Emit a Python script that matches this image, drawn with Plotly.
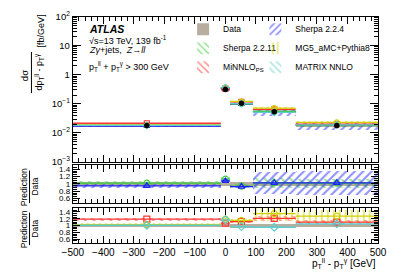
import plotly.graph_objects as go

# ---------------- data ----------------
bin_edges = [-500, -15, 15, 90, 230, 500]
data_vals = [0.018, 0.31, 0.105, 0.053, 0.018]
data_relerr = [0.05, 0.04, 0.06, 0.05, 0.05]

sherpa224_ratio = [0.95, 1.08, 0.93, 1.03, 1.03]
sherpa224_unc = [0.05, 0.05, 0.05, 0.29, 0.32]
sherpa2211_ratio = [1.02, 1.13, 0.94, 1.03, 1.02]
sherpa2211_unc = [0.06, 0.06, 0.06, 0.12, 0.12]
minnlo_ratio = [1.19, 1.07, 1.12, 1.21, 1.10]
minnlo_unc = [0.04, 0.04, 0.04, 0.05, 0.05]
mg5_ratio = [1.03, 1.19, 1.15, 1.35, 1.28]
mg5_unc = [0.04, 0.05, 0.05, 0.15, 0.15]
matrix_ratio = [1.01, 1.17, 0.97, 0.95, 1.05]
matrix_unc = [0.03, 0.03, 0.03, 0.03, 0.03]

x_tick_vals = [-500, -400, -300, -200, -100, 0, 100, 200, 300, 400, 500]
y_main_tickvals = [1e-3, 1e-2, 1e-1, 1, 10, 100]
y_main_ticktext = ["10<sup>\u22123</sup>", "10<sup>\u22122</sup>", "10<sup>\u22121</sup>", "1", "10", "10<sup>2</sup>"]
y_ratio_tickvals = [0.6, 0.8, 1, 1.2, 1.4]
y_ratio_ticktext = ["0.6", "0.8", "1", "1.2", "1.4"]

FONT = "Liberation Sans"
W, H = 407, 276

lo = bin_edges[:-1]
hi = bin_edges[1:]
centers = [(a + b) / 2 for a, b in zip(lo, hi)]
widths = [b - a for a, b in zip(lo, hi)]

C_DATA = "#b8ae9f"
C_BLUE = "#2020ff"
C_GREEN = "#3ccc3c"
C_RED = "#ff3535"
C_YEL = "#d0d000"
C_CYAN = "#5fcccc"

fig = go.Figure()


def band(xa, ya, center, rel, color, shape, name=None, legend=None, solid=False):
    base = [c * (1 - r) for c, r in zip(center, rel)]
    height = [c * 2 * r for c, r in zip(center, rel)]
    if solid:
        marker = dict(color=color, line=dict(width=0))
    else:
        marker = dict(color="rgba(0,0,0,0)", line=dict(width=0),
                      pattern=dict(shape=shape, fgcolor=color, bgcolor="rgba(0,0,0,0)",
                                   size=6, solidity=0.35, fillmode="overlay"))
    fig.add_trace(go.Bar(x=centers, y=height, base=base, width=widths, marker=marker,
                         xaxis=xa, yaxis=ya, name=name or "band", showlegend=legend is not None,
                         legend=legend if legend else "legend", hoverinfo="skip"))


def hlines(xa, ya, vals, color, width=1.3):
    xs, ys = [], []
    for a, b, v in zip(lo, hi, vals):
        xs += [a, b, None]
        ys += [v, v, None]
    fig.add_trace(go.Scatter(x=xs, y=ys, mode="lines", line=dict(color=color, width=width),
                             xaxis=xa, yaxis=ya, showlegend=False, hoverinfo="skip"))


def marks(xa, ya, vals, color, symbol, size=6):
    fig.add_trace(go.Scatter(x=centers, y=vals, mode="markers",
                             marker=dict(color=color, symbol=symbol, size=size, line=dict(width=1.2, color=color)),
                             xaxis=xa, yaxis=ya, showlegend=False, hoverinfo="skip"))


preds = [
    ("Sherpa 2.2.4", sherpa224_ratio, sherpa224_unc, C_BLUE, "/", "triangle-up-open", "legend2", 1),
    ("Sherpa 2.2.11", sherpa2211_ratio, sherpa2211_unc, C_GREEN, "\\", "circle-open", "legend", 1),
    ("MiNNLO<sub>PS</sub>", minnlo_ratio, minnlo_unc, C_RED, "\\", "square-open", "legend", 2),
    ("MG5_aMC+Pythia8", mg5_ratio, mg5_unc, C_YEL, "|", "circle-open", "legend2", 2),
    ("MATRIX NNLO", matrix_ratio, matrix_unc, C_CYAN, "\\", "diamond-open", "legend2", 2),
]

# ---- main panel ----
band("x", "y", data_vals, data_relerr, C_DATA, "", name="Data", legend="legend", solid=True)
for name, r, u, col, shp, sym, lg, panel in preds:
    pv = [d * k for d, k in zip(data_vals, r)]
    band("x", "y", pv, u, col, shp)
    hlines("x", "y", pv, col)
    marks("x", "y", pv, col, sym, size=5)
fig.add_trace(go.Scatter(x=centers, y=data_vals, mode="markers",
                         marker=dict(color="black", symbol="circle", size=5.5),
                         xaxis="x", yaxis="y", showlegend=False, hoverinfo="skip"))

# ---- ratio panels ----
ones = [1.0] * len(centers)
for xa, ya in (("x2", "y2"), ("x3", "y3")):
    band(xa, ya, ones, data_relerr, C_DATA, "", solid=True)

order = ["Sherpa 2.2.11", "MiNNLO<sub>PS</sub>", "Sherpa 2.2.4", "MG5_aMC+Pythia8", "MATRIX NNLO"]
for nm in order:
    name, r, u, col, shp, sym, lg, panel = [p for p in preds if p[0] == nm][0]
    xa, ya = ("x2", "y2") if panel == 1 else ("x3", "y3")
    band(xa, ya, r, u, col, shp, name=name, legend=lg)
    hlines(xa, ya, r, col)
    marks(xa, ya, r, col, sym, size=6)

# ---------------- layout ----------------
def X(px):
    return px / W


def Y(py):
    return 1 - py / H


xdom = [X(65), X(386)]
axis_common = dict(showline=True, linecolor="black", linewidth=1, mirror="allticks",
                   ticks="inside", tickcolor="black", showgrid=False, zeroline=False,
                   tickfont=dict(family=FONT, size=9.5, color="black"))

xcommon = dict(axis_common, range=[-500, 500], tickvals=x_tick_vals, ticklen=7,
               minor=dict(ticks="inside", dtick=20, ticklen=4, tickcolor="black", showgrid=False))

ratio_font = dict(family=FONT, size=8, color="black")

fig.update_layout(
    width=W, height=H, margin=dict(l=0, r=0, t=0, b=0),
    paper_bgcolor="white", plot_bgcolor="white", barmode="overlay", bargap=0,
    font=dict(family=FONT, color="black"),
    xaxis=dict(xcommon, domain=xdom, anchor="y", showticklabels=False),
    xaxis2=dict(xcommon, domain=xdom, anchor="y2", matches="x", showticklabels=False),
    xaxis3=dict(xcommon, domain=xdom, anchor="y3", matches="x", showticklabels=True,
                ticktext=[str(v).replace("-", "\u2212") for v in x_tick_vals], tickmode="array",
                tickfont=dict(family=FONT, size=10, color="black")),
    yaxis=dict(axis_common, type="log", domain=[Y(162), Y(10)], anchor="x", range=[-3, 2],
               tickvals=y_main_tickvals, ticktext=y_main_ticktext, ticklen=8,
               minor=dict(ticks="inside", ticklen=4, tickcolor="black", showgrid=False,
                          tickvals=[m * 10 ** e for e in range(-3, 2) for m in range(2, 10)])),
    yaxis2=dict(axis_common, domain=[Y(205), Y(165)], anchor="x2", range=[0.48, 1.52],
                tickvals=y_ratio_tickvals, ticktext=y_ratio_ticktext, ticklen=7,
                tickfont=ratio_font,
                minor=dict(ticks="inside", dtick=0.05, ticklen=4, tickcolor="black", showgrid=False)),
    yaxis3=dict(axis_common, domain=[Y(247), Y(210)], anchor="x3", range=[0.48, 1.52],
                tickvals=y_ratio_tickvals, ticktext=y_ratio_ticktext, ticklen=7,
                tickfont=ratio_font,
                minor=dict(ticks="inside", dtick=0.05, ticklen=4, tickcolor="black", showgrid=False)),
    legend=dict(x=X(181), y=Y(8), xanchor="left", yanchor="top", bgcolor="rgba(0,0,0,0)",
                font=dict(family=FONT, size=8.5, color="black"), tracegroupgap=0,
                traceorder="normal", itemwidth=30),
    legend2=dict(x=X(257), y=Y(8), xanchor="left", yanchor="top", bgcolor="rgba(0,0,0,0)",
                 font=dict(family=FONT, size=8.5, color="black"), tracegroupgap=0,
                 traceorder="normal", itemwidth=30),
    showlegend=True,
)

ann = []


def text(px, py, s, size=9, xanchor="left", angle=0, **kw):
    ann.append(dict(x=X(px), y=Y(py), xref="paper", yref="paper", text=s, showarrow=False,
                    xanchor=xanchor, yanchor="middle", textangle=angle,
                    font=dict(family=FONT, size=size, color="black"), **kw))


text(80, 23, "<b><i>ATLAS</i></b>", size=10.5)
text(80, 34, "\u221As=13 TeV, 139 fb<sup>-1</sup>", size=9)
text(80, 45, "<i>Z\u03b3</i>+jets,  <i>Z\u2192ll</i>", size=9)
text(80, 62, "p<sub>T</sub><sup>ll</sup> + p<sub>T</sub><sup>\u03b3</sup> > 300 GeV", size=9)

# y-axis title of main panel (fraction)
text(15, 72, "d\u03c3", size=9.5, xanchor="center", angle=-90)
text(29, 68, "dp<sub>T</sub><sup>ll</sup> - p<sub>T</sub><sup>\u03b3</sup>", size=9, xanchor="center", angle=-90)
text(31, 25, "[fb/GeV]", size=9, xanchor="center", angle=-90)

# ratio titles
for cy in (188, 232):
    text(14, cy, "Prediction", size=8.5, xanchor="center", angle=-90)
    text(25, cy, "Data", size=8.5, xanchor="center", angle=-90)

# x-axis title
ann.append(dict(x=X(386), y=Y(268), xref="paper", yref="paper",
                text="p<sub>T</sub><sup>ll</sup> - p<sub>T</sub><sup>\u03b3</sup> [GeV]",
                showarrow=False, xanchor="right", yanchor="middle",
                font=dict(family=FONT, size=10, color="black")))
fig.update_layout(annotations=ann)

shapes = [
    dict(type="line", xref="paper", yref="paper", x0=X(21.5), x1=X(21.5), y0=Y(47), y1=Y(90),
         line=dict(color="black", width=1)),
    dict(type="line", xref="paper", yref="paper", x0=X(19.5), x1=X(19.5), y0=Y(171), y1=Y(205),
         line=dict(color="black", width=1)),
    dict(type="line", xref="paper", yref="paper", x0=X(19.5), x1=X(19.5), y0=Y(215), y1=Y(249),
         line=dict(color="black", width=1)),
]
fig.update_layout(shapes=shapes)

fig.write_html("out.html", config={"displayModeBar": False},
               post_script="document.body.style.margin='0';document.body.style.padding='0';")
